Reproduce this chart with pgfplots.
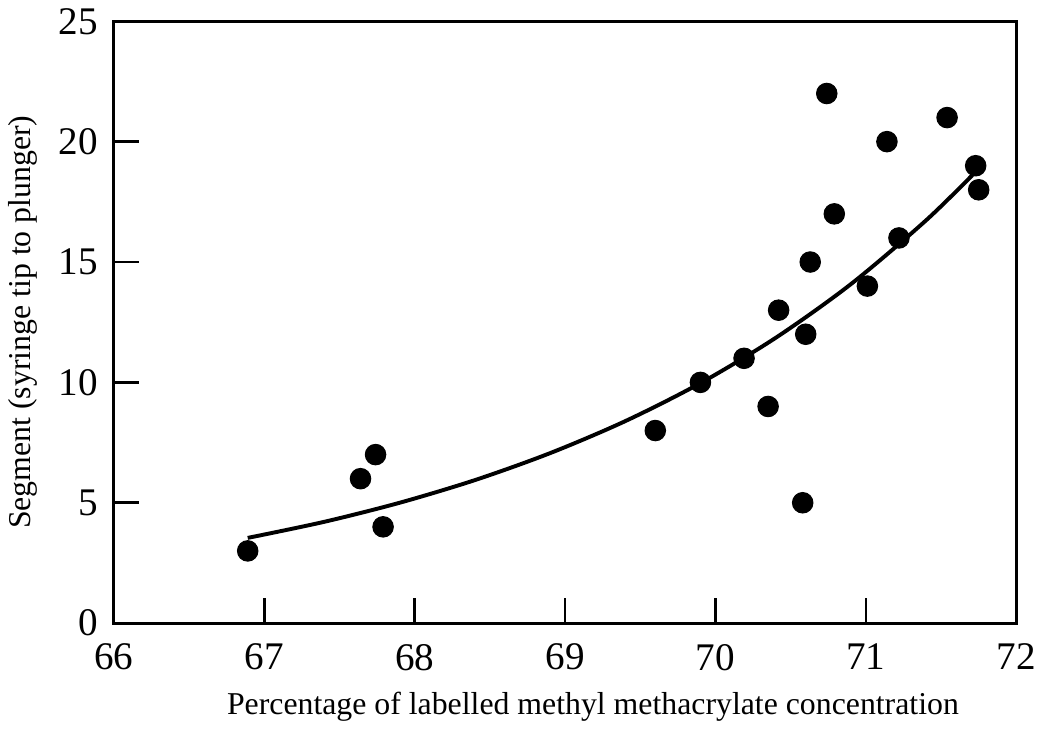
\documentclass[border=0pt]{standalone}
\usepackage{fontspec}
\setmainfont{Liberation Serif}
\usepackage{pgfplots}
\pgfplotsset{compat=1.18}

\begin{document}
\begin{tikzpicture}
\begin{axis}[
    width=12.97cm, height=8.65cm,
    scale only axis,
    xmin=66, xmax=72, ymin=0, ymax=25,
    xtick={66,67,...,72},
    ytick={0,5,...,25},
    tick align=inside,
    xtick pos=bottom, ytick pos=left,
    major tick length=0.36cm,
    axis line style={line width=1.2pt},
    every tick/.style={line width=1.1pt, black},
    tick label style={font=\fontsize{16}{18}\selectfont},
    xticklabel style={yshift=-5pt},
    yticklabel style={xshift=-3pt},
    /pgf/number format/assume math mode=true,
    label style={font=\fontsize{13}{15}\selectfont},
    xlabel={Percentage of labelled methyl methacrylate concentration},
    ylabel={Segment (syringe tip to plunger)},
    xlabel style={yshift=-2pt, xshift=0.4cm},
    ylabel style={yshift=2pt},
    clip=false]
  % fitted curve
  \addplot[black, line width=1.6pt, smooth, no marks] coordinates {
    (66.89,3.54) (67.4,4.21) (67.9,5.00) (68.4,5.94) (68.9,7.06)
    (69.4,8.39) (69.9,9.97) (70.4,11.85) (70.9,14.08) (71.4,16.73) (71.73,18.75)
  };
  % measurements
  \addplot[only marks, mark=*, mark size=4.2pt, black] coordinates {
    (66.89,3) (67.64,6) (67.74,7) (67.79,4) (69.60,8) (69.90,10)
    (70.19,11) (70.35,9) (70.42,13) (70.58,5) (70.60,12) (70.63,15)
    (70.74,22) (70.79,17) (71.01,14) (71.14,20) (71.22,16) (71.54,21)
    (71.73,19) (71.75,18)
  };
\end{axis}
\end{tikzpicture}
\end{document}
